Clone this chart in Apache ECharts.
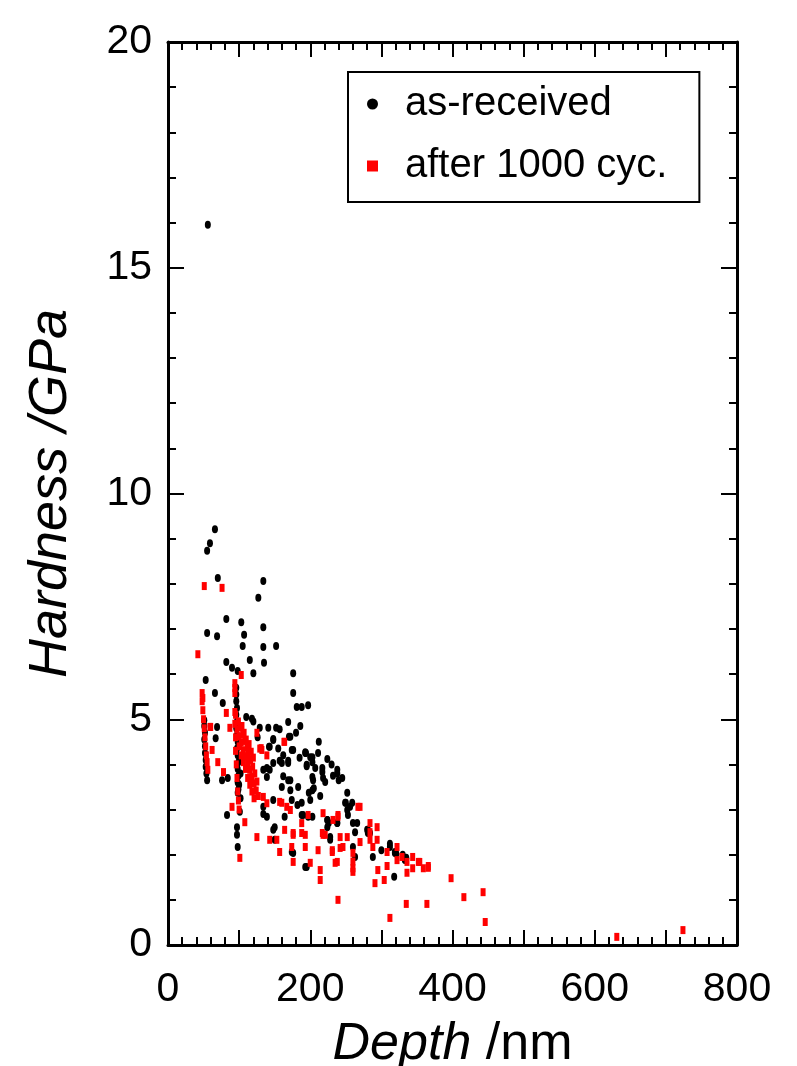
<!DOCTYPE html>
<html>
<head>
<meta charset="utf-8">
<script src="https://cdn.jsdelivr.net/npm/echarts@6/dist/echarts.min.js"></script>
<style>
html,body{margin:0;padding:0;background:#fff;}
#chart{width:797px;height:1066px;}
</style>
</head>
<body>
<div id="chart"></div>
<script>
// ---- data: [depth (nm), hardness (GPa)] ----
const seriesNames = ['as-received', 'after 1000 cyc.'];
const xTickLabels = ['0', '200', '400', '600', '800'];
const yTickLabels = ['0', '5', '10', '15', '20'];

const asReceived = [
  [56,15.95],
  [66,9.21],[59,8.90],[55,8.73],[70,8.13],[134,8.06],[127,7.69],[82,7.22],[103,7.15],[134,7.04],
  [55,6.91],[69,6.84],[107,6.87],[105,6.62],[134,6.60],[152,6.62],
  [115,6.31],[120,6.02],[176,6.02],[176,5.58],[82,6.27],[90,6.14],[98,6.07],[53,5.87],[66,5.58],[135,6.25],
  [77,5.36],[181,5.27],[188,5.27],[197,5.31],
  [96,5.70],[96,5.55],[96,5.40],[97,5.25],[96,5.10],[97,4.95],[96,4.80],
  [118,5.01],[169,4.94],[141,4.81],[152,4.81],[157,4.78],[186,4.85],[69,4.83],[67,4.58],[148,4.56],
  [170,4.61],[142,4.39],[176,4.32],[193,4.25],
  [51,4.98],[51,4.85],[52,4.70],[51,4.55],[52,4.40],[52,4.25],[53,4.10],[53,3.95],[54,3.80],[55,3.65],
  [97,4.65],[98,4.50],[97,4.35],[98,4.20],[99,4.05],[98,3.90],[99,3.75],[98,3.60],[99,3.45],[98,3.37],
  [212,4.50],[193,4.27],[203,4.16],[224,4.12],[169,4.08],[157,4.08],[148,4.03],[143,3.88],[139,3.72],
  [195,3.99],[217,3.92],[238,3.88],[245,3.70],[218,3.70],[203,3.72],[183,3.50],[169,3.65],[203,3.43],
  [252,3.37],[76,3.65],[84,3.70],[148,3.21],[134,3.06],[139,2.84],[150,2.61],[150,2.33],[83,2.88],
  [97,2.61],[97,2.44],[98,2.17],[197,2.84],[203,2.84],[224,2.77],[228,2.39],[176,2.04],[195,1.73],
  [260,2.70],[252,2.99],[263,2.50],
  [129,4.81],[172,4.61],[148,4.54],[143,4.39],[174,4.32],[211,4.25],[194,4.25],[200,4.16],[203,4.05],
  [160,4.03],[169,4.03],[134,3.88],[139,3.92],[195,3.96],[207,3.92],[217,3.83],[238,3.80],[240,3.65],
  [162,3.74],[172,3.65],[221,3.61],[204,3.65],[172,3.43],[205,3.47],[198,3.37],[174,3.21],[188,3.15],
  [200,3.21],[250,3.15],[259,3.15],[134,2.90],[190,2.88],[238,2.70],[266,2.70],[164,2.84],[148,2.55],
  [228,2.33],[224,2.61],[280,2.55],[281,2.48],[312,2.17],[319,2.04],[260,2.17],[288,1.95],[333,1.88],
  [174,2.06],[318,1.51],[263,1.95],[330,2.00],[300,2.10],
  [249,3.15],[256,3.06],[253,2.88],[188,2.88],[224,2.77],[226,2.70],[238,2.70],[281,2.55],[284,2.48],
  [312,2.24],[319,2.06],[321,2.02],[335,1.93],[193,1.73],
  [100,4.45],[101,4.10],[102,3.80],[100,3.55],[102,3.25],[101,2.95],[120,4.95],[126,4.60],[110,5.05],
  [155,4.35],[162,4.20],[180,4.70],[185,4.15],[230,4.00],[232,3.75],[160,3.50],[214,3.30],[182,3.10]
];

const after1000 = [
  [42,6.44],[51,7.95],[76,7.91],[103,5.98],[94,5.69],[94,5.80],[94,5.58],[49,5.47],[82,5.14],[94,5.16],
  [60,4.83],[125,4.70],[131,4.36],[163,4.50],[87,4.81],[62,4.32],
  [48,5.58],[48,5.40],[49,5.20],[50,5.00],[51,4.80],[52,4.60],[53,4.40],[54,4.20],[55,4.05],[56,3.88],
  [59,4.83],[70,4.05],[78,3.83],[90,3.06],[108,2.72],[101,1.93],[125,2.39],
  [95,5.10],[97,4.78],[99,4.95],[100,4.62],[102,4.82],[103,4.48],[105,4.66],[106,4.31],[108,4.52],
  [109,4.18],[111,4.38],[112,4.02],[113,4.25],[115,3.88],[116,4.10],[118,3.72],[119,3.95],[121,3.58],
  [122,3.80],[124,3.42],[125,3.62],[127,3.30],[104,4.85],[107,4.70],[110,4.55],[114,4.45],[117,4.28],
  [120,4.15],[100,4.40],[103,4.20],[106,4.05],[109,3.90],[112,3.70],[115,3.55],[118,3.40],[121,3.25],
  [94,4.90],[95,4.60],[95,4.30],[96,4.00],[97,3.70],[98,3.40],[99,3.20],[100,3.00],
  [132,4.32],[139,4.20],[164,4.50],[134,3.28],[139,3.14],[157,3.17],[167,3.06],[164,2.55],[176,2.44],
  [193,2.44],[188,2.70],[218,2.92],[218,2.44],[232,2.77],[239,2.84],[246,2.17],[231,2.10],[242,2.39],
  [157,2.06],[176,1.84],[200,1.82],[214,1.66],[235,1.82],[260,2.04],[260,1.85],[260,1.62],[267,3.06],
  [129,4.35],[160,3.15],[172,2.99],[270,3.06],[153,2.33],[143,2.33],[176,2.48],[197,2.88],[239,2.88],
  [188,2.48],[193,2.17],[174,2.17],[211,2.10],[217,2.48],[221,2.44],[231,2.06],[242,2.15],[252,2.39],
  [260,1.70],[270,2.28],[284,2.70],[284,2.50],[284,2.33],[294,2.61],[294,2.33],[288,2.17],[295,1.66],
  [291,1.37],[308,2.06],[308,1.75],[322,2.17],[322,1.88],[336,1.84],[336,1.60],[344,1.95],[344,1.70],
  [354,1.84],[366,1.71],[398,1.48],[214,1.44],[239,1.00],[335,0.91],[364,0.91],[312,0.60],[304,1.44],
  [238,1.84],[329,1.95],[352,1.84],[359,1.70],[366,1.75],
  [416,1.06],[443,1.17],[446,0.51],[631,0.18],[724,0.33]
];

const FONT = '"Liberation Sans", Arial, sans-serif';

const chart = echarts.init(document.getElementById('chart'), null, {renderer: 'canvas'});

function xAxisDef(pos, showLabel, withName) {
  return {
    type: 'value', position: pos, min: 0, max: 800, interval: 100,
    axisLine: {show: true, onZero: false, lineStyle: {color: '#000', width: 3}},
    axisTick: {show: true, inside: true, length: 15, lineStyle: {color: '#000', width: 2}},
    minorTick: {show: true, splitNumber: 5, length: 8, lineStyle: {color: '#000', width: 2}},
    splitLine: {show: false},
    axisLabel: {
      show: showLabel, margin: 24, color: '#000', fontFamily: FONT, fontSize: 41,
      formatter: v => { const i = xTickLabels.indexOf(String(v)); return i >= 0 ? xTickLabels[i] : ''; }
    },
    name: withName ? '{i|Depth}{n| /nm}' : '',
    nameLocation: 'middle', nameGap: 74,
    nameTextStyle: {
      rich: {
        i: {fontFamily: FONT, fontSize: 52, fontStyle: 'italic', color: '#000'},
        n: {fontFamily: FONT, fontSize: 52, color: '#000'}
      }
    }
  };
}
function yAxisDef(pos, showLabel, withName) {
  return {
    type: 'value', position: pos, min: 0, max: 20, interval: 5,
    axisLine: {show: true, onZero: false, lineStyle: {color: '#000', width: 3}},
    axisTick: {show: true, inside: true, length: 16, lineStyle: {color: '#000', width: 2}},
    minorTick: {show: true, splitNumber: 5, length: 8, lineStyle: {color: '#000', width: 2}},
    splitLine: {show: false},
    axisLabel: {
      show: showLabel, margin: 16, color: '#000', fontFamily: FONT, fontSize: 41,
      formatter: v => { const i = yTickLabels.indexOf(String(v)); return i >= 0 ? yTickLabels[i] : ''; }
    },
    name: withName ? 'Hardness /GPa' : '',
    nameLocation: 'middle', nameGap: 90, nameRotate: 90,
    nameTextStyle: {fontFamily: FONT, fontSize: 54, fontStyle: 'italic', color: '#000'}
  };
}

chart.setOption({
  backgroundColor: '#fff',
  animation: false,
  grid: {left: 168, right: 60, top: 42, bottom: 121, containLabel: false, outerBoundsMode: 'none'},
  xAxis: [xAxisDef('bottom', true, true), xAxisDef('top', false, false)],
  yAxis: [yAxisDef('left', true, true), yAxisDef('right', false, false)],
  legend: {
    orient: 'vertical', left: 348, top: 72,
    backgroundColor: '#fff',
    borderColor: '#000', borderWidth: 2, borderRadius: 0,
    padding: [12, 32, 16, 19],
    itemGap: 22, itemWidth: 11, itemHeight: 11,
    textStyle: {fontFamily: FONT, fontSize: 40, color: '#000', padding: [0, 0, 0, 22]},
    data: [
      {name: seriesNames[0], icon: 'circle'},
      {name: seriesNames[1], icon: 'rect'}
    ]
  },
  series: [
    {
      name: seriesNames[0], type: 'scatter', xAxisIndex: 0, yAxisIndex: 0,
      data: asReceived, symbol: 'circle', symbolSize: [6, 8],
      itemStyle: {color: '#000', opacity: 1}, z: 3
    },
    {
      name: seriesNames[1], type: 'scatter', xAxisIndex: 0, yAxisIndex: 0,
      data: after1000, symbol: 'rect', symbolSize: [5, 8],
      itemStyle: {color: '#ff0000', opacity: 1}, z: 4
    }
  ]
});
</script>
</body>
</html>
